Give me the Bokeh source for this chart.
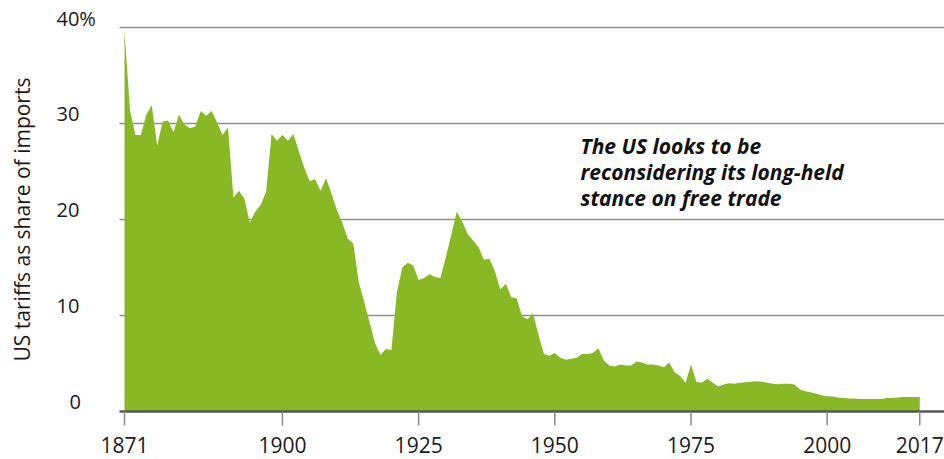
import math
from bokeh.plotting import figure
from bokeh.models import Label, ColumnDataSource, Range1d
from bokeh.embed import file_html
from bokeh.resources import INLINE

# ---- data -------------------------------------------------------------
years = list(range(1871, 2018))
tariff = [
    39.7, 31.4, 28.8, 28.8, 30.9, 31.9, 27.7, 30.2, 30.3, 29.1,   # 1871-1880
    30.9, 29.9, 29.5, 29.7, 31.3, 30.8, 31.3, 30.1, 28.8, 29.6,   # 1881-1890
    22.3, 23.0, 22.2, 19.7, 20.8, 21.5, 22.9, 28.9, 28.2, 28.8,   # 1891-1900
    28.2, 28.9, 27.1, 25.4, 24.0, 24.2, 23.0, 24.3, 22.7, 21.0,   # 1901-1910
    19.6, 18.0, 17.5, 13.5, 11.4, 9.3, 7.1, 5.9, 6.5, 6.4,        # 1911-1920
    12.4, 15.0, 15.5, 15.2, 13.7, 13.9, 14.3, 14.0, 13.9, 16.1,   # 1921-1930
    18.4, 20.8, 19.8, 18.5, 17.8, 17.1, 15.8, 15.9, 14.6, 12.7,   # 1931-1940
    13.3, 11.9, 11.8, 9.9, 9.6, 10.2, 8.0, 6.0, 5.8, 6.1,         # 1941-1950
    5.6, 5.4, 5.5, 5.6, 6.0, 6.0, 6.1, 6.6, 5.3, 4.8,             # 1951-1960
    4.7, 4.9, 4.8, 4.8, 5.2, 5.1, 4.9, 4.9, 4.8, 4.6,             # 1961-1970
    5.1, 4.1, 3.7, 3.0, 4.9, 3.1, 3.0, 3.4, 3.0, 2.6,             # 1971-1980
    2.8, 2.95, 2.9, 3.0, 3.05, 3.1, 3.15, 3.1, 3.0, 2.9,          # 1981-1990
    2.85, 2.9, 2.9, 2.8, 2.3, 2.1, 2.0, 1.85, 1.7, 1.6,           # 1991-2000
    1.55, 1.45, 1.4, 1.35, 1.35, 1.3, 1.3, 1.3, 1.3, 1.3,         # 2001-2010
    1.4, 1.4, 1.45, 1.5, 1.5, 1.5, 1.5,                           # 2011-2017
]
x_ticks = [1871, 1900, 1925, 1950, 1975, 2000, 2017]
x_tick_labels = ["1871", "1900", "1925", "1950", "1975", "2000", "2017"]
y_ticks = [0, 10, 20, 30, 40]
y_tick_labels = ["0", "10", "20", "30", "40%"]
y_title = "US tariffs as share of imports"
note_lines = ["The US looks to be", "reconsidering its long-held", "stance on free trade"]

# ---- pixel geometry (canvas pixels) ------------------------------------
W, H = 944, 459
AXIS_L = 119          # left end of gridlines / axis line
X_1871 = 124          # pixel of the first year
BASE = 411            # pixel of value 0
PX_PER_YEAR = 5.447
PX_PER_UNIT = 9.6
FIX = 0.41            # renderer places the alphabetic baseline ~0.41em low


def dx(px):
    return years[0] + (px - X_1871) / PX_PER_YEAR


def dy(py):
    return (BASE - py) / PX_PER_UNIT


FONT = "Open Sans"
TEXT = "#1a1a1a"
GREEN = "#89b825"
GRID = "#8f8f8f"

p = figure(width=W, height=H, output_backend="svg", toolbar_location=None,
           x_range=Range1d(dx(0), dx(W)), y_range=Range1d(dy(H), dy(0)),
           min_border=0)
p.outline_line_color = None
p.axis.visible = False
p.grid.visible = False
p.background_fill_color = "white"
p.border_fill_color = "white"

src = ColumnDataSource(dict(year=years, tariff=tariff))

# gridlines (values above 0)
grid_vals = [v for v in y_ticks if v > 0]
p.segment(x0=[dx(AXIS_L)] * len(grid_vals), x1=[dx(W)] * len(grid_vals),
          y0=grid_vals, y1=grid_vals, line_color=GRID, line_width=1.3)

# area
p.varea(x="year", y1=0, y2="tariff", source=src, fill_color=GREEN)

# x axis line and ticks
p.segment(x0=[dx(AXIS_L)], x1=[dx(W)], y0=[0], y1=[0],
          line_color="#555555", line_width=2.5)
p.segment(x0=x_ticks, x1=x_ticks, y0=[0] * len(x_ticks),
          y1=[dy(BASE + 14)] * len(x_ticks), line_color="#8a8a8a", line_width=1.5)

# x tick labels
XS = 21
for t, lab in zip(x_ticks, x_tick_labels):
    p.add_layout(Label(x=t, y=dy(453 - FIX * XS), text=lab, text_align="center",
                       text_baseline="alphabetic", text_font=FONT,
                       text_font_size=f"{XS}px", text_color=TEXT))

# y tick labels (baseline sits just on the gridline)
YS = 20
for v, lab in zip(y_ticks, y_tick_labels):
    left = 69 if lab == "0" else 56
    p.add_layout(Label(x=dx(left), y=v + (1.0 + FIX * YS) / PX_PER_UNIT, text=lab,
                       text_align="left", text_baseline="alphabetic",
                       text_font=FONT, text_font_size=f"{YS}px", text_color=TEXT))

# y title
TS = 21
p.add_layout(Label(x=dx(30 - FIX * TS), y=dy(219), text=y_title, angle=math.pi / 2,
                   text_align="center", text_baseline="alphabetic",
                   text_font=FONT, text_font_size=f"{TS}px", text_color=TEXT))

# annotation
NS = 21
for i, line in enumerate(note_lines):
    p.add_layout(Label(x=dx(580), y=dy(154 + 26 * i - FIX * NS), text=line,
                       text_align="left", text_baseline="alphabetic",
                       text_font=FONT, text_font_style="bold italic",
                       text_font_size=f"{NS}px", text_color="#111111"))

open("out.html", "w").write(file_html(p, INLINE))
